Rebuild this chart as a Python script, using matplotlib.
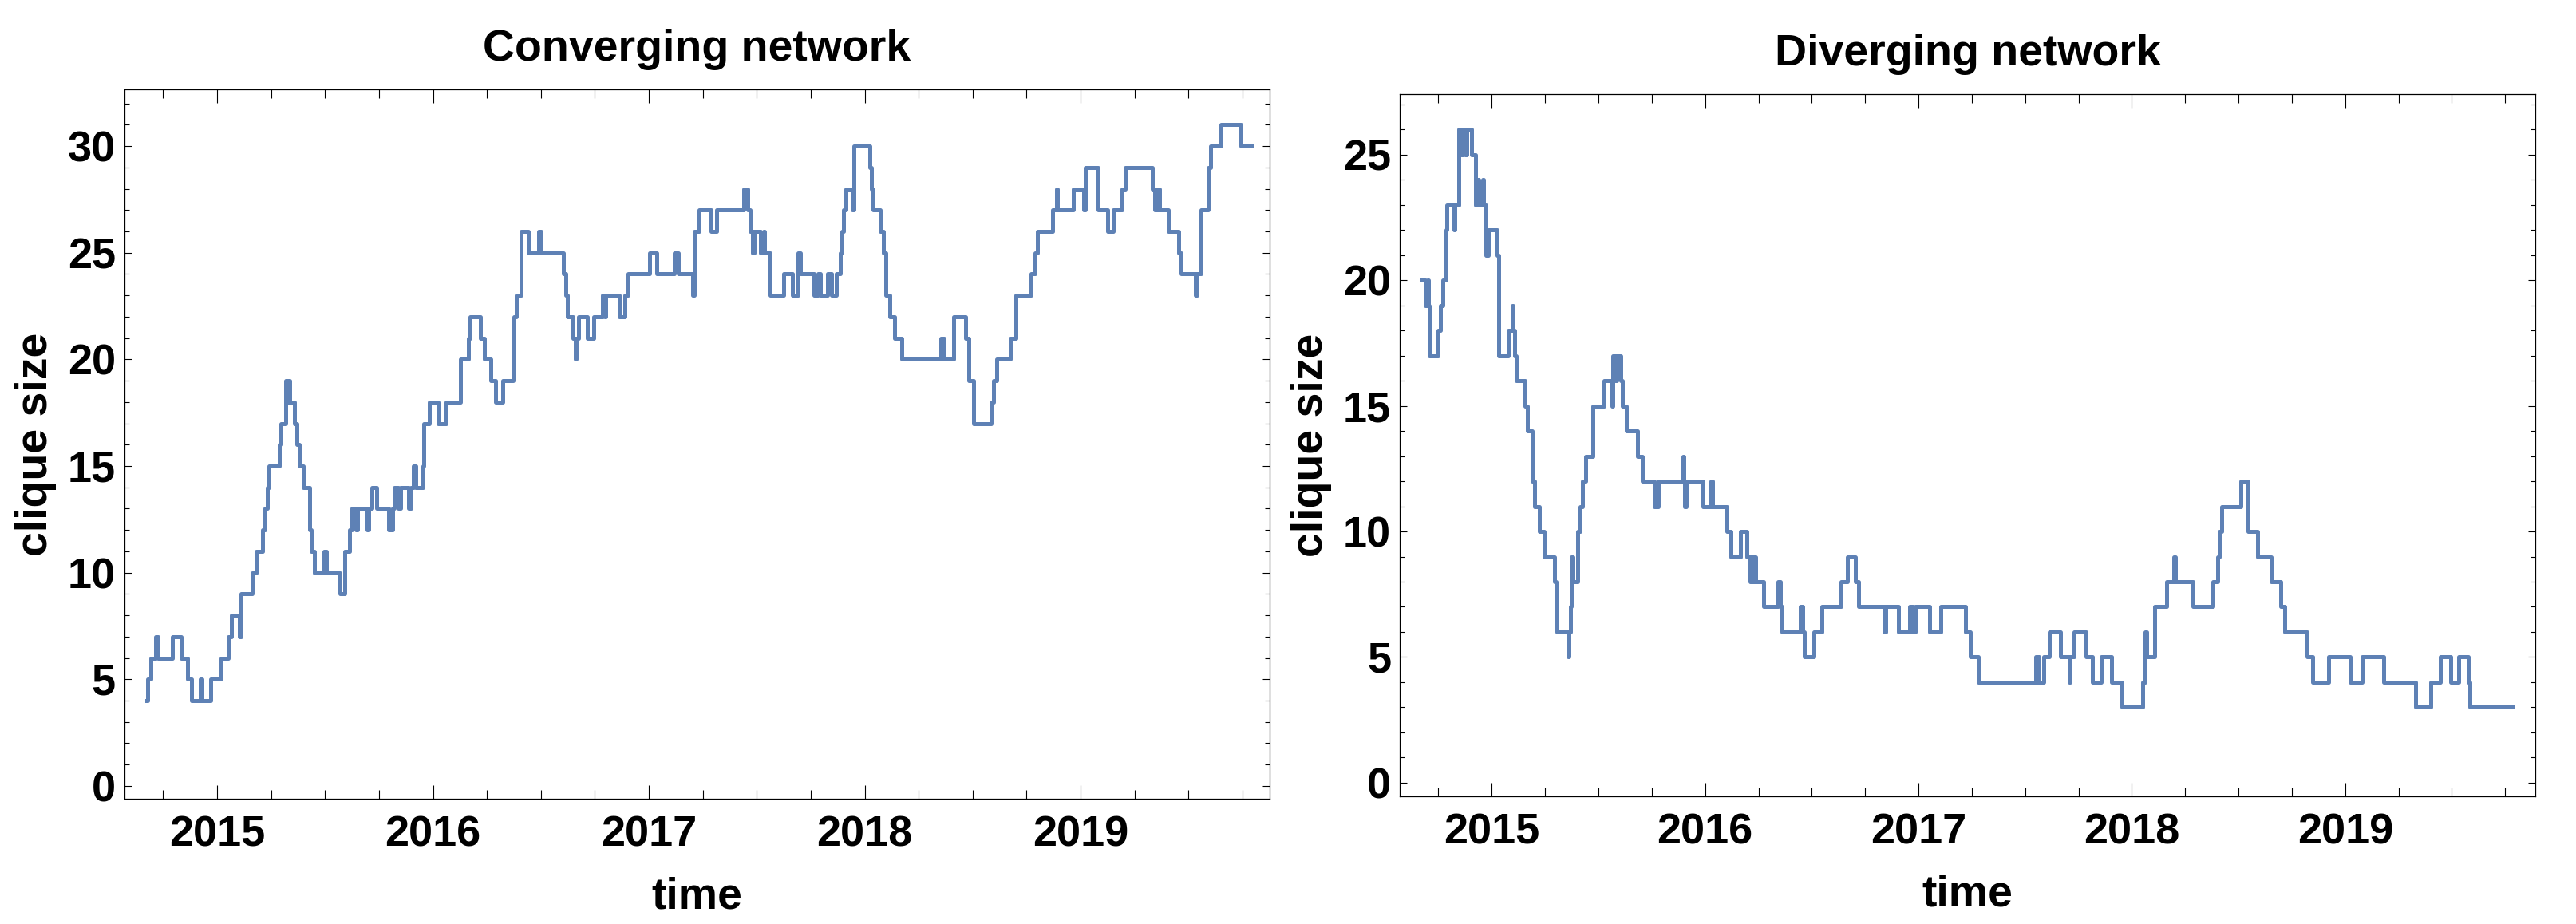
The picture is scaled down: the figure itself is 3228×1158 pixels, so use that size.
import numpy as np
import matplotlib
matplotlib.use('Agg')
import matplotlib.pyplot as plt
from matplotlib.ticker import MultipleLocator

plt.rcParams['font.family'] = ['Liberation Sans', 'DejaVu Sans']
plt.rcParams['font.weight'] = 'bold'

# converging network: (decimal year where the clique size changes, new size)
conv_t = [
    2014.675, 2014.677, 2014.694, 2014.716, 2014.726, 2014.794, 2014.832, 2014.862,
    2014.881, 2014.922, 2014.930, 2014.972, 2015.019, 2015.053, 2015.068, 2015.104,
    2015.110, 2015.163, 2015.181, 2015.212, 2015.222, 2015.232, 2015.240, 2015.287,
    2015.297, 2015.318, 2015.325, 2015.329, 2015.338, 2015.360, 2015.368, 2015.380,
    2015.400, 2015.430, 2015.436, 2015.452, 2015.495, 2015.506, 2015.571, 2015.590,
    2015.612, 2015.624, 2015.643, 2015.650, 2015.696, 2015.703, 2015.716, 2015.741,
    2015.794, 2015.813, 2015.820, 2015.841, 2015.851, 2015.888, 2015.900, 2015.911,
    2015.922, 2015.955, 2015.958, 2015.983, 2016.025, 2016.062, 2016.128, 2016.166,
    2016.172, 2016.219, 2016.238, 2016.267, 2016.289, 2016.323, 2016.371, 2016.376,
    2016.386, 2016.410, 2016.440, 2016.490, 2016.500, 2016.603, 2016.616, 2016.622,
    2016.650, 2016.658, 2016.664, 2016.675, 2016.716, 2016.743, 2016.786, 2016.795,
    2016.800, 2016.862, 2016.890, 2016.894, 2016.905, 2017.004, 2017.036, 2017.119,
    2017.138, 2017.202, 2017.210, 2017.231, 2017.288, 2017.315, 2017.440, 2017.459,
    2017.468, 2017.482, 2017.488, 2017.517, 2017.533, 2017.536, 2017.562, 2017.623,
    2017.666, 2017.691, 2017.703, 2017.765, 2017.784, 2017.796, 2017.827, 2017.845,
    2017.870, 2017.886, 2017.895, 2017.901, 2017.913, 2017.943, 2017.950, 2018.022,
    2018.032, 2018.038, 2018.073, 2018.085, 2018.098, 2018.116, 2018.139, 2018.170,
    2018.351, 2018.368, 2018.411, 2018.469, 2018.481, 2018.504, 2018.586, 2018.598,
    2018.613, 2018.675, 2018.699, 2018.771, 2018.790, 2018.800, 2018.872, 2018.887,
    2018.893, 2018.965, 2019.015, 2019.021, 2019.082, 2019.126, 2019.150, 2019.192,
    2019.208, 2019.334, 2019.344, 2019.358, 2019.367, 2019.406, 2019.455, 2019.465,
    2019.532, 2019.540, 2019.558, 2019.590, 2019.601, 2019.651, 2019.742, 2019.790,
]
conv_v = [
    4, 5, 6, 7, 6, 7, 6, 5,
    4, 5, 4, 5, 6, 7, 8, 7,
    9, 10, 11, 12, 13, 14, 15, 16,
    17, 19, 18, 19, 18, 17, 16, 15,
    14, 12, 11, 10, 11, 10, 9, 11,
    12, 13, 12, 13, 12, 13, 14, 13,
    12, 13, 14, 13, 14, 13, 14, 15,
    14, 15, 17, 18, 17, 18, 20, 21,
    22, 21, 20, 19, 18, 19, 20, 22,
    23, 26, 25, 26, 25, 24, 23, 22,
    21, 20, 21, 22, 21, 22, 23, 22,
    23, 22, 23, 23, 24, 25, 24, 25,
    24, 23, 26, 27, 26, 27, 28, 27,
    26, 25, 26, 25, 26, 25, 23, 24,
    23, 25, 24, 23, 24, 23, 24, 23,
    24, 25, 26, 27, 28, 27, 30, 29,
    28, 27, 26, 25, 23, 22, 21, 20,
    21, 20, 22, 21, 19, 17, 18, 19,
    20, 21, 23, 24, 25, 26, 27, 28,
    27, 28, 27, 29, 27, 26, 27, 28,
    29, 28, 27, 28, 27, 26, 25, 24,
    23, 24, 27, 29, 30, 31, 30, 30,
]

# diverging network
div_t = [
    2014.672, 2014.687, 2014.700, 2014.704, 2014.706, 2014.748, 2014.761, 2014.771,
    2014.786, 2014.790, 2014.822, 2014.828, 2014.844, 2014.847, 2014.858, 2014.864,
    2014.875, 2014.882, 2014.905, 2014.924, 2014.933, 2014.938, 2014.956, 2014.962,
    2014.973, 2014.985, 2015.025, 2015.031, 2015.033, 2015.034, 2015.076, 2015.095,
    2015.101, 2015.108, 2015.115, 2015.156, 2015.168, 2015.191, 2015.202, 2015.225,
    2015.244, 2015.296, 2015.300, 2015.305, 2015.359, 2015.363, 2015.368, 2015.374,
    2015.380, 2015.404, 2015.414, 2015.425, 2015.439, 2015.473, 2015.527, 2015.563,
    2015.569, 2015.580, 2015.585, 2015.605, 2015.611, 2015.630, 2015.683, 2015.706,
    2015.762, 2015.779, 2015.895, 2015.900, 2015.905, 2015.912, 2015.989, 2016.029,
    2016.035, 2016.104, 2016.120, 2016.164, 2016.195, 2016.210, 2016.218, 2016.225,
    2016.231, 2016.236, 2016.275, 2016.342, 2016.351, 2016.361, 2016.445, 2016.456,
    2016.466, 2016.511, 2016.546, 2016.637, 2016.666, 2016.705, 2016.718, 2016.838,
    2016.847, 2016.905, 2016.958, 2016.975, 2016.985, 2017.053, 2017.105, 2017.220,
    2017.244, 2017.281, 2017.549, 2017.556, 2017.560, 2017.566, 2017.586, 2017.612,
    2017.664, 2017.706, 2017.712, 2017.730, 2017.784, 2017.817, 2017.858, 2017.904,
    2017.952, 2018.052, 2018.063, 2018.070, 2018.107, 2018.163, 2018.198, 2018.203,
    2018.288, 2018.381, 2018.403, 2018.410, 2018.420, 2018.510, 2018.545, 2018.588,
    2018.652, 2018.699, 2018.715, 2018.821, 2018.847, 2018.924, 2019.024, 2019.078,
    2019.179, 2019.330, 2019.401, 2019.445, 2019.494, 2019.532, 2019.577, 2019.586,
    2019.782,
]
div_v = [
    20, 19, 20, 19, 17, 18, 19, 20,
    22, 23, 22, 23, 25, 26, 25, 26,
    25, 26, 25, 23, 24, 23, 24, 23,
    21, 22, 21, 20, 18, 17, 18, 19,
    18, 17, 16, 15, 14, 12, 11, 10,
    9, 8, 7, 6, 5, 6, 7, 9,
    8, 10, 11, 12, 13, 15, 16, 15,
    17, 16, 17, 16, 15, 14, 13, 12,
    11, 12, 13, 12, 11, 12, 11, 12,
    11, 10, 9, 10, 9, 8, 9, 8,
    9, 8, 7, 8, 7, 6, 7, 6,
    5, 6, 7, 8, 9, 8, 7, 6,
    7, 6, 7, 6, 7, 6, 7, 6,
    5, 4, 5, 4, 5, 4, 5, 6,
    5, 4, 5, 6, 5, 4, 5, 4,
    3, 4, 6, 5, 7, 8, 9, 8,
    7, 8, 9, 10, 11, 12, 10, 9,
    8, 7, 6, 5, 4, 5, 4, 5,
    4, 3, 4, 5, 4, 5, 4, 3,
    3,
]

years = [2015, 2016, 2017, 2018, 2019]
line_color = '#5E81B5'

fig = plt.figure(figsize=(32.28, 11.58), dpi=100)
ax1 = fig.add_axes([0.0483, 0.1356, 0.4446, 0.7677])
ax2 = fig.add_axes([0.5434, 0.1382, 0.4408, 0.7599])

panels = [
    (ax1, conv_t, conv_v, 'Converging network', (2014.571, 2019.876), (-0.6, 32.66)),
    (ax2, div_t, div_v, 'Diverging network', (2014.569, 2019.891), (-0.54, 27.40)),
]

for ax, t, v, title, xl, yl in panels:
    ax.plot(t, v, drawstyle='steps-post', color=line_color, lw=3.6)
    ax.set_xlim(*xl)
    ax.set_ylim(*yl)
    ax.set_xticks(years)
    ax.set_xticklabels([str(y) for y in years])
    ax.xaxis.set_minor_locator(MultipleLocator(0.25))
    ax.yaxis.set_major_locator(MultipleLocator(5))
    ax.yaxis.set_minor_locator(MultipleLocator(1))
    ax.tick_params(axis='both', which='both', direction='in', top=True, right=True,
                   width=0.8, labelsize=39, colors='black')
    ax.tick_params(axis='x', which='major', length=12, pad=15)
    ax.tick_params(axis='x', which='minor', length=8)
    ax.tick_params(axis='y', which='major', length=6.5, pad=8)
    ax.tick_params(axis='y', which='minor', length=4.3)
    for lab in ax.get_xticklabels() + ax.get_yticklabels():
        lab.set_fontweight('bold')
    for sp in ax.spines.values():
        sp.set_linewidth(0.9)
    ax.set_title(title, fontsize=40, fontweight='bold', pad=26)
    ax.set_xlabel('time', fontsize=40, fontweight='bold', labelpad=19)
    ax.set_ylabel('clique size', fontsize=40, fontweight='bold', labelpad=10)

fig.savefig('out.png', dpi=100)
